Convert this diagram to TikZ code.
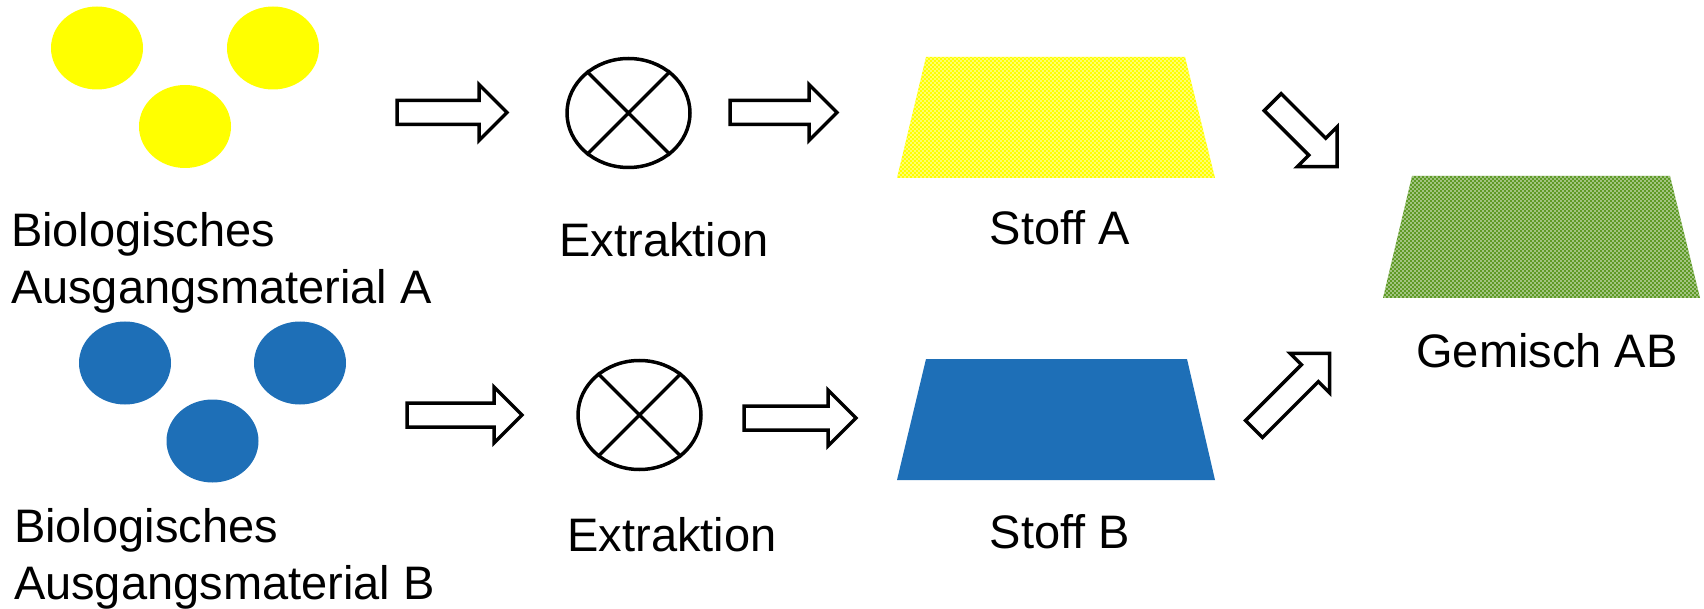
\documentclass[tikz,border=0pt]{standalone}
\usepackage{fontspec}
\setmainfont{Liberation Sans}
\usetikzlibrary{shapes.geometric}
\definecolor{ylw}{HTML}{FFFF00}
\definecolor{blu}{HTML}{1E6FB7}
\definecolor{grn}{HTML}{5E9A26}
\tikzset{
  lbl/.style={font=\fontsize{47}{57}\selectfont, inner sep=0pt, outer sep=0pt},
  blob/.style={ellipse, minimum width=92pt, minimum height=83pt, inner sep=0pt, draw=none},
  xcirc/.style={ellipse, draw, line width=3.5pt, minimum width=123pt, minimum height=109pt, inner sep=0pt},
  arrline/.style={draw, line width=3.5pt, fill=white, line join=miter},
  pics/barrow/.style={code={
    \draw[arrline] (0,-12) -- (#1-28,-12) -- (#1-28,-28) -- (#1,0) -- (#1-28,28) -- (#1-28,12) -- (0,12) -- cycle;
  }}
}
\begin{document}
\begin{tikzpicture}[x=1pt,y=-1pt]
\useasboundingbox (0,0) rectangle (1704,609);
% source material A
\node[blob, fill=ylw] (a1) at (97,48) {};
\node[blob, fill=ylw] (a2) at (273,48) {};
\node[blob, fill=ylw] (a3) at (185,126.5) {};
\node[lbl, anchor=north west, align=left] (srcA) at (11,212) {Biologisches\\Ausgangsmaterial A};
% source material B
\node[blob, fill=blu] (b1) at (125,363) {};
\node[blob, fill=blu] (b2) at (300,363) {};
\node[blob, fill=blu] (b3) at (212.5,441) {};
\node[lbl, anchor=north west, align=left] (srcB) at (14,508) {Biologisches\\Ausgangsmaterial B};
% extraction
\node[xcirc] (xA) at (628.5,113) {};
\draw[line width=3.5pt] (xA.45) -- (xA.225) (xA.135) -- (xA.315);
\node[xcirc] (xB) at (639.5,415) {};
\draw[line width=3.5pt] (xB.45) -- (xB.225) (xB.135) -- (xB.315);
\node[lbl, anchor=base] (extA) at (664,257) {Extraktion};
\node[lbl, anchor=base] (extB) at (672,551) {Extraktion};
% substance A (checkered yellow)
\begin{scope}
\clip (926,57) -- (1185,57) -- (1215,178) -- (897,178) -- cycle;
\fill[ylw] (896,56) rectangle (1216,180);
\fill[white] \foreach \i in {0,...,80} {\foreach \j in {0,...,31} {(896.3+4*\i,56.3+4*\j) rectangle ++(1.4,1.4) (898.3+4*\i,58.3+4*\j) rectangle ++(1.4,1.4)}};
\end{scope}
% substance B
\fill[blu] (926,359) -- (1187,359) -- (1215,480) -- (897,480) -- cycle;
% mixture AB (checkered green)
\begin{scope}
\clip (1412,176) -- (1670,176) -- (1700,298) -- (1383,298) -- cycle;
\fill[grn] (1382,174) rectangle (1702,300);
\fill[white] \foreach \i in {0,...,80} {\foreach \j in {0,...,31} {(1382.3+4*\i,174.3+4*\j) rectangle ++(1.4,1.4) (1384.3+4*\i,176.3+4*\j) rectangle ++(1.4,1.4)}};
\end{scope}
\node[lbl, anchor=base] (stA) at (1060,245) {Stoff A};
\node[lbl, anchor=base] (stB) at (1060,548) {Stoff B};
\node[lbl, anchor=base] (mix) at (1547,367) {Gemisch AB};
% block arrows
\pic at (397,112.5) {barrow=110};
\pic at (730,112.5) {barrow=107};
\pic at (407,415) {barrow=115};
\pic at (744,418) {barrow=112};
\pic[rotate=-45] at (1272.7,102.2) {barrow=91};
\pic[rotate=45] at (1254,429) {barrow=107};
\end{tikzpicture}
\end{document}
